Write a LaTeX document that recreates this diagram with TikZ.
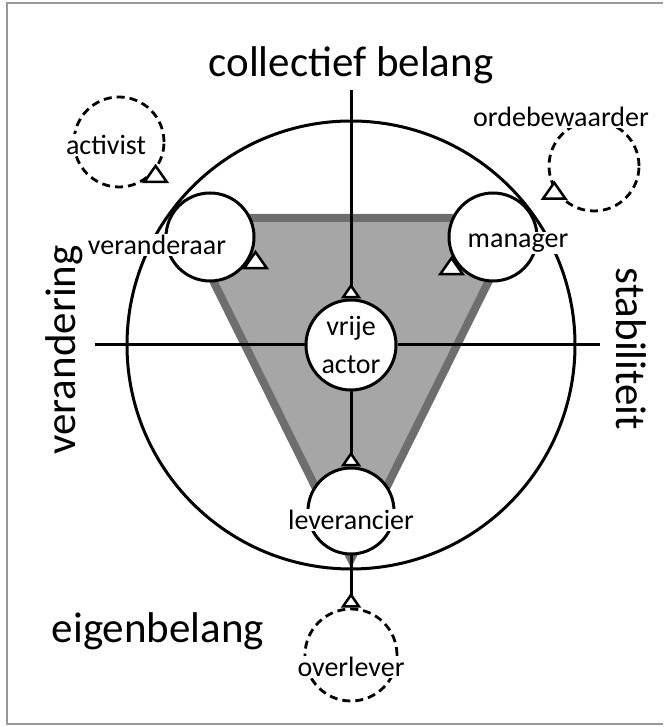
\documentclass[tikz,border=0pt]{standalone}
\usepackage{fontspec}
\setmainfont{Carlito}
\usetikzlibrary{shapes.geometric, arrows.meta}
\begin{document}
\begin{tikzpicture}[x=1pt,y=1pt,
  role/.style={draw,shape=circle,fill=white,line width=3pt,inner sep=0pt,minimum size=88pt},
  loopc/.style={draw,shape=circle,line width=2.8pt,dash pattern=on 8pt off 5pt,inner sep=0pt,minimum size=90pt},
  lbl/.style={fill=white,inner sep=1.5pt,font=\fontsize{28}{38}\selectfont},
  big/.style={inner sep=0pt,font=\fontsize{43}{50}\selectfont},
  head/.style={draw,shape=isosceles triangle,shape border rotate=90,isosceles triangle apex angle=70,fill=white,line width=2.5pt,inner sep=0pt,minimum size=16pt},
  axis/.style={line width=3pt},
  gen/.style={-{Triangle[reversed,fill=white,length=15pt,width=20pt,line width=2.5pt]}}]
  \useasboundingbox (0,0) rectangle (663,727);
  \draw[black!40,line width=2.5pt] (663,724) -- (7,724) -- (7,3) -- (663,3);
  \filldraw[fill=black!35,draw=black!57,line width=8pt,line join=miter] (182,509) -- (520,509) -- (351,168) -- cycle;
  \node[draw,shape=circle,line width=3pt,inner sep=0pt,minimum size=448pt] (bigc) at (351,382) {};
  \coordinate (top) at (351,637); \coordinate (west) at (95,382); \coordinate (east) at (600,382);
  \path (351,382) node[role,minimum size=90pt] (vrije) {} (210,490) node[role] (ver) {}
  (493,490) node[role] (man) {} (351,216) node[role,minimum size=86pt] (lev) {}
  (119,585) node[loopc] (act) {} (594,561) node[loopc] (orde) {} (351,72) node[loopc,minimum size=92pt] (over) {};
  \draw[axis] (west) -- (vrije) (vrije) -- (east);
  \draw[axis,gen] (top) -- (vrije);
  \draw[axis,gen] (vrije) -- (lev);
  \draw[axis,gen] (lev) -- (over);
  \node[head] (verhead) at ([shift={(-29:52)}]ver) {};
  \node[head] (manhead) at ([shift={(217:52)}]man) {};
  \node[head] (acthead) at ([shift={(-43:50)}]act) {};
  \node[head] (ordehead) at ([shift={(214:48)}]orde) {};
  \node[big] (coll) at (351,662) {collectief belang};
  \node[big,rotate=90] (verand) at (64,377) {verandering};
  \node[big,rotate=-90] (stab) at (631,378) {stabiliteit};
  \node[big] (eigen) at (158,96) {eigenbelang};
  \node[lbl] (vertxt) at (157,482) {veranderaar};
  \node[lbl] (mantxt) at (518,484) {manager};
  \node[lbl] (levtxt) at (351,207) {leverancier};
  \node[lbl] (acttxt) at (106,582) {activist};
  \node[lbl] (ordetxt) at (561,610) {ordebewaarder};
  \node[lbl] (overtxt) at (351,60) {overlever};
  \node[lbl,fill=none,align=center] (vrijetxt) at (vrije) {vrije\\actor};
\end{tikzpicture}
\end{document}
